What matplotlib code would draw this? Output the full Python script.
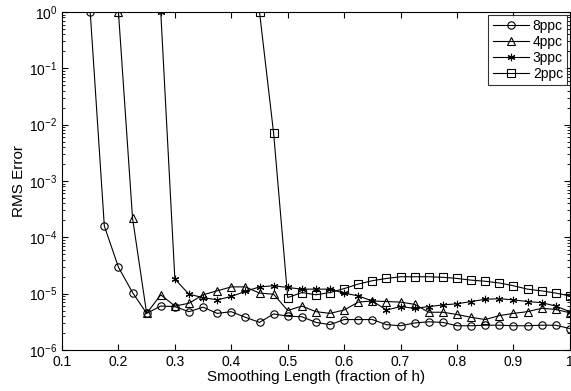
import matplotlib.pyplot as plt
import numpy as np
from matplotlib.ticker import LogLocator, NullFormatter

plt.rcParams['font.family'] = ['Liberation Sans', 'DejaVu Sans']

# smoothing length (fraction of h), sampled every 0.025
x8 = np.round(np.arange(0.15, 1.0001, 0.025), 3)
x4 = np.round(np.arange(0.20, 1.0001, 0.025), 3)
x3 = np.round(np.arange(0.275, 1.0001, 0.025), 3)
x2 = np.round(np.arange(0.45, 1.0001, 0.025), 3)

# log10 of RMS error
log8 = [0, -3.80, -4.53, -4.98, -5.35, -5.22, -5.23, -5.32, -5.24, -5.35, -5.32,
        -5.42, -5.51, -5.36, -5.40, -5.41, -5.51, -5.55, -5.46, -5.46, -5.46,
        -5.55, -5.57, -5.52, -5.50, -5.51, -5.57, -5.57, -5.56, -5.56, -5.57,
        -5.57, -5.56, -5.56, -5.62]
log4 = [0, -3.66, -5.35, -5.02, -5.22, -5.17, -5.02, -4.95, -4.88, -4.88, -4.99,
        -5.01, -5.30, -5.22, -5.32, -5.35, -5.29, -5.15, -5.13, -5.14, -5.15,
        -5.19, -5.33, -5.33, -5.37, -5.42, -5.46, -5.39, -5.35, -5.32, -5.26,
        -5.28, -5.34]
log3 = [0, -4.74, -5.01, -5.07, -5.11, -5.05, -4.96, -4.88, -4.86, -4.89, -4.92,
        -4.92, -4.92, -4.99, -5.04, -5.13, -5.29, -5.23, -5.26, -5.23, -5.20,
        -5.18, -5.14, -5.10, -5.09, -5.11, -5.14, -5.16, -5.22, -5.32]
log2 = [0, -2.15, -5.07, -4.98, -5.02, -4.98, -4.91, -4.83, -4.77, -4.73, -4.70,
        -4.70, -4.70, -4.71, -4.73, -4.76, -4.78, -4.81, -4.86, -4.92, -4.95,
        -4.99, -5.04]

fig = plt.figure(figsize=(5.71, 3.91), dpi=100)
ax = fig.add_axes([0.1086, 0.1049, 0.8894, 0.8644])

mk = dict(color='black', lw=0.8, markersize=5.3, markerfacecolor='none',
          markeredgecolor='black', markeredgewidth=0.8)
ax.semilogy(x8, 10.0 ** np.array(log8), marker='o', label='8ppc', **mk)
ax.semilogy(x4, 10.0 ** np.array(log4), marker='^', label='4ppc', **mk)
ax.semilogy(x3, 10.0 ** np.array(log3), marker=(6, 2, 0), label='3ppc', **mk)
ax.semilogy(x2, 10.0 ** np.array(log2), marker='s', label='2ppc', **mk)

ax.set_xlim(0.1, 1.0)
ax.set_ylim(1e-6, 1)
ax.set_xticks(np.round(np.arange(0.1, 1.01, 0.1), 1))
ax.set_xticklabels(['0.1', '0.2', '0.3', '0.4', '0.5', '0.6', '0.7', '0.8', '0.9', '1'])
ax.yaxis.set_major_locator(LogLocator(base=10, numticks=10))
ax.yaxis.set_minor_locator(LogLocator(base=10, subs=np.arange(2, 10), numticks=10))
ax.yaxis.set_minor_formatter(NullFormatter())

ax.tick_params(which='both', direction='in', top=True, right=True, labelsize=10)
ax.tick_params(which='major', length=4)
ax.tick_params(which='minor', length=2)
for s in ax.spines.values():
    s.set_linewidth(0.8)

ax.set_xlabel('Smoothing Length (fraction of h)', fontsize=11, labelpad=1)
ax.set_ylabel('RMS Error', fontsize=11, labelpad=2)

leg = ax.legend(loc='upper right', fontsize=10, frameon=True, fancybox=False,
                edgecolor='black', handlelength=2.6, handletextpad=0.3,
                borderaxespad=0.2, labelspacing=0.15, borderpad=0.3)
leg.get_frame().set_linewidth(0.8)

fig.savefig('out.png', dpi=100)
